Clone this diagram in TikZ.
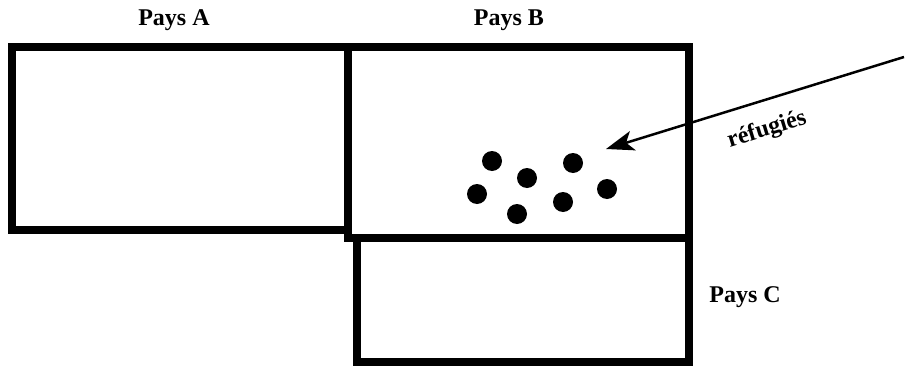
\documentclass[tikz,border=0pt]{standalone}
\usepackage{fontspec}
\setmainfont{Liberation Serif}
\usetikzlibrary{arrows.meta}
\begin{document}
\begin{tikzpicture}[x=1pt,y=-1pt,
  box/.style={draw=black,line width=8pt,rectangle,inner sep=0pt,outer sep=0pt},
  dot/.style={circle,fill=black,inner sep=0pt,minimum size=20pt},
  lbl/.style={font=\fontsize{24}{28}\selectfont\bfseries,inner sep=0pt}]
\useasboundingbox (0,0) rectangle (906,367);
\node[box,minimum width=336.5pt,minimum height=183pt] (A) at (179.75,138.5) {};
\node[box,minimum width=341pt,minimum height=191pt] (B) at (518.5,142.5) {};
\node[box,minimum width=332pt,minimum height=124pt] (C) at (523,300) {};
\node[lbl] (la) at (174,20) {Pays A};
\node[lbl] (lb) at (509,20) {Pays B};
\node[lbl] (lc) at (745,297) {Pays C};
\node[dot] (d1) at (492,161) {};
\node[dot] (d2) at (573,163) {};
\node[dot] (d3) at (527,178) {};
\node[dot] (d4) at (477,194) {};
\node[dot] (d5) at (607,189) {};
\node[dot] (d6) at (563,202) {};
\node[dot] (d7) at (517,214) {};
\coordinate (s) at (904,57);
\coordinate (t) at (606,149);
\draw[line width=2.5pt,-{Stealth[length=28pt,width=20pt,inset=7pt]}] (s) -- (t);
\node[lbl,rotate=17] (lr) at (767,130) {réfugiés};
\end{tikzpicture}
\end{document}
